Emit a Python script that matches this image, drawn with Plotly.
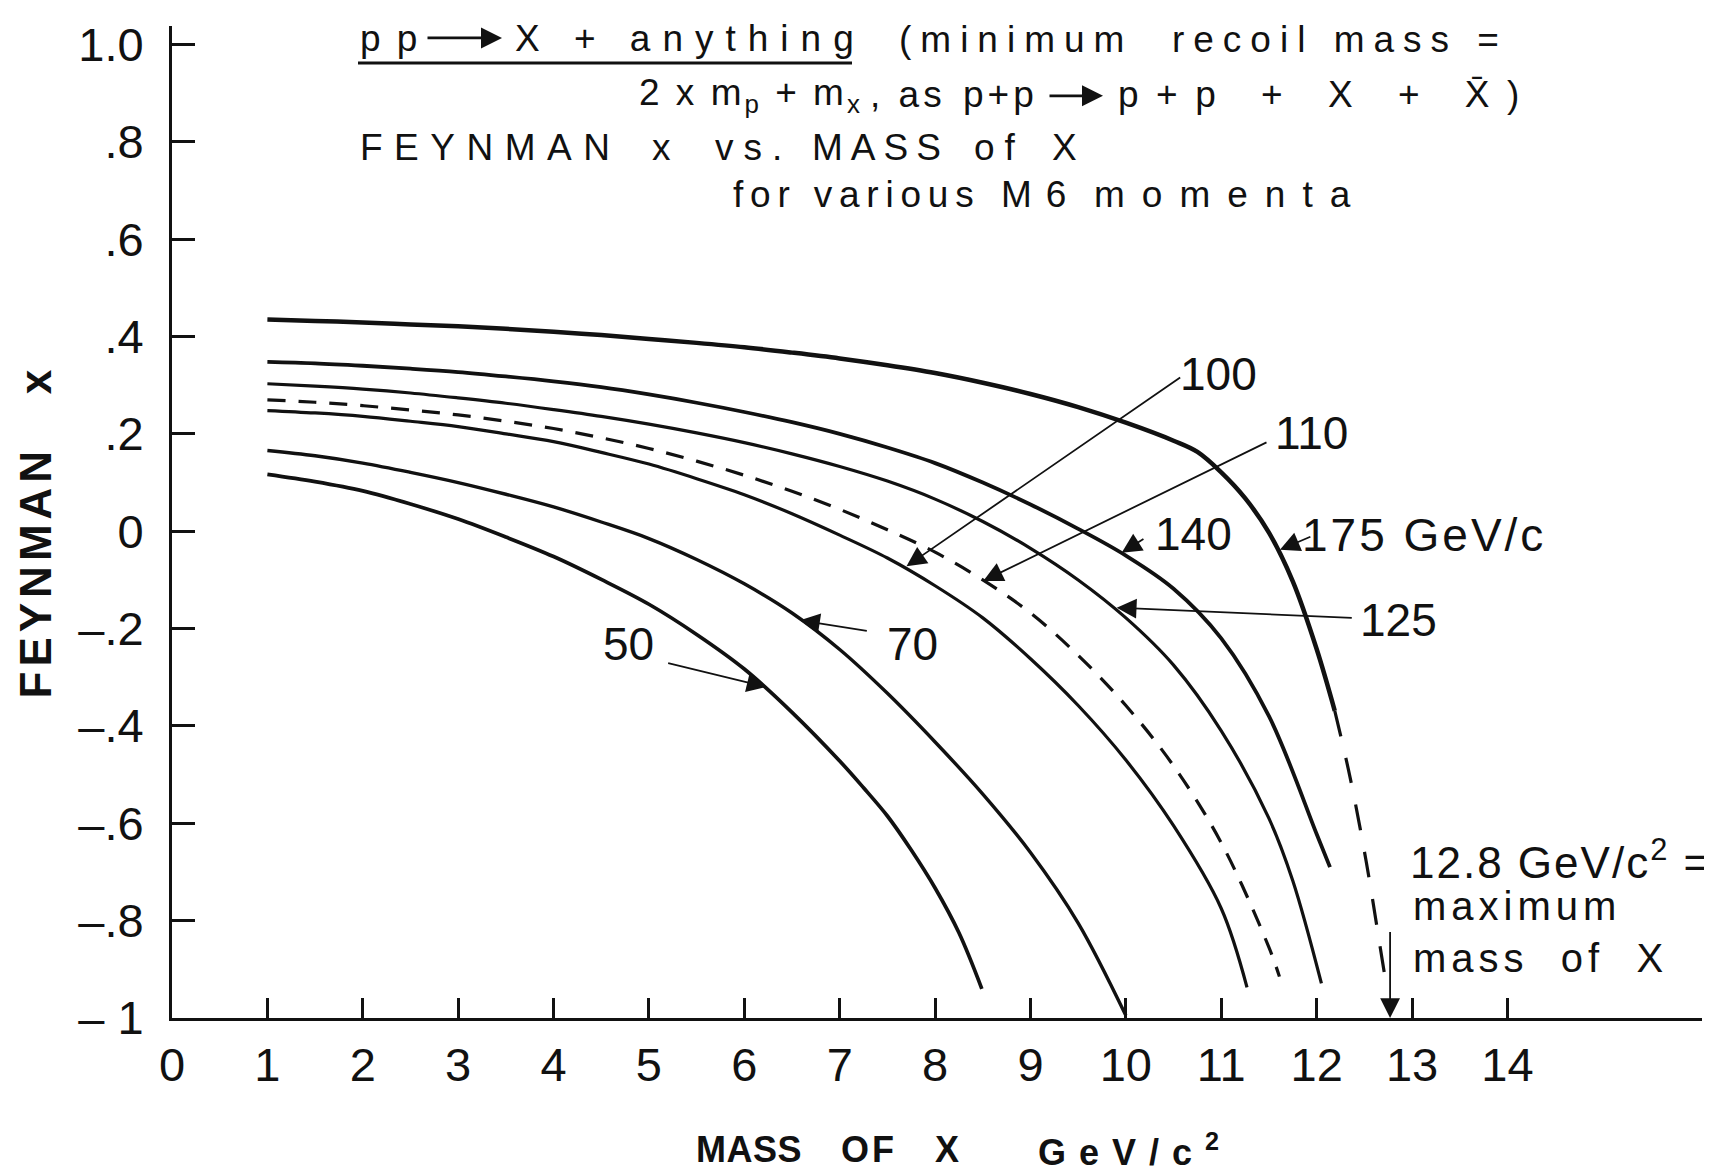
import plotly.graph_objects as go

# ---------------- data ----------------
m_50 = [1, 1.5, 2, 2.5, 3, 3.5, 4, 4.5, 5, 5.5, 6, 6.5, 7, 7.25, 7.5, 7.75, 8, 8.25, 8.49]
xf_50 = [0.117, 0.102, 0.083, 0.056, 0.025, -0.012, -0.052, -0.099, -0.150, -0.212, -0.283,
         -0.372, -0.472, -0.527, -0.585, -0.655, -0.733, -0.825, -0.940]

m_70 = [1, 1.5, 2, 2.5, 3, 3.5, 4, 4.5, 5, 5.5, 6, 6.5, 7, 7.5, 8, 8.5, 9, 9.5, 10]
xf_70 = [0.166, 0.155, 0.140, 0.121, 0.100, 0.076, 0.050, 0.019, -0.015, -0.058, -0.108, -0.168,
         -0.243, -0.333, -0.433, -0.540, -0.660, -0.805, -0.995]

m_100 = [1, 1.5, 2, 2.5, 3, 3.5, 4, 4.5, 5, 5.5, 6, 6.5, 7, 7.5, 8, 8.5, 9, 9.5, 10, 10.5, 11, 11.27]
xf_100 = [0.248, 0.243, 0.236, 0.226, 0.215, 0.200, 0.184, 0.162, 0.138, 0.108, 0.075, 0.036,
          -0.008, -0.055, -0.112, -0.178, -0.262, -0.358, -0.470, -0.605, -0.775, -0.937]

m_110 = [1, 1.5, 2, 2.5, 3, 3.5, 4, 4.5, 5, 5.5, 6, 6.5, 7, 7.5, 8, 8.5, 9, 9.5, 10, 10.5, 11, 11.5, 11.61]
xf_110 = [0.270, 0.265, 0.258, 0.249, 0.239, 0.226, 0.211, 0.192, 0.170, 0.144, 0.115, 0.082,
          0.045, 0.003, -0.043, -0.100, -0.168, -0.255, -0.358, -0.482, -0.640, -0.855, -0.915]

m_125 = [1, 1.5, 2, 2.5, 3, 3.5, 4, 4.5, 5, 5.5, 6, 6.5, 7, 7.5, 8, 8.5, 9, 9.5, 10, 10.5, 11, 11.5, 11.75, 12.05]
xf_125 = [0.303, 0.298, 0.292, 0.284, 0.274, 0.263, 0.250, 0.236, 0.220, 0.202, 0.182, 0.159,
          0.133, 0.103, 0.066, 0.020, -0.035, -0.100, -0.178, -0.275, -0.410, -0.590, -0.718, -0.929]

m_140 = [1, 1.5, 2, 2.5, 3, 3.5, 4, 4.5, 5, 5.5, 6, 6.5, 7, 7.5, 8, 8.5, 9, 9.5, 10, 10.5, 11, 11.5, 12, 12.14]
xf_140 = [0.348, 0.345, 0.340, 0.334, 0.327, 0.318, 0.308, 0.296, 0.281, 0.264, 0.245, 0.224,
          0.200, 0.172, 0.140, 0.100, 0.055, 0.005, -0.050, -0.118, -0.220, -0.380, -0.622, -0.690]

m_175 = [1, 1.5, 2, 2.5, 3, 3.5, 4, 4.5, 5, 5.5, 6, 6.5, 7, 7.5, 8, 8.5, 9, 9.5, 10, 10.5,
         10.75, 11, 11.25, 11.5, 11.75, 12, 12.19]
xf_175 = [0.435, 0.432, 0.429, 0.425, 0.421, 0.416, 0.410, 0.403, 0.395, 0.387, 0.378, 0.367,
          0.355, 0.341, 0.325, 0.305, 0.282, 0.255, 0.223, 0.186, 0.163, 0.121, 0.068, -0.003,
          -0.103, -0.242, -0.369]
m_175_ext = [12.19, 12.35, 12.52, 12.66, 12.71]
xf_175_ext = [-0.369, -0.505, -0.679, -0.847, -0.908]

x_tick_vals = list(range(0, 15))
x_tick_text = [str(v) for v in x_tick_vals]
y_tick_vals = [1.0, 0.8, 0.6, 0.4, 0.2, 0.0, -0.2, -0.4, -0.6, -0.8, -1.0]
y_tick_text = ["1.0", ".8", ".6", ".4", ".2", "0", "\u2013.2", "\u2013.4", "\u2013.6", "\u2013.8", "\u2013 1"]

# momentum labels on the curves: (text, x, y) in data units
curve_labels = [("100", 10.97, 0.324), ("110", 11.95, 0.201), ("140", 10.71, -0.006),
                ("125", 12.86, -0.182), ("70", 7.76, -0.232), ("50", 4.79, -0.232)]
# leader arrows: (tip_x, tip_y, tail_x, tail_y) in data units
leaders = [(7.70, -0.072, 10.585, 0.318), (8.505, -0.102, 11.49, 0.184),
           (9.956, -0.044, 10.20, -0.014), (11.615, -0.038, 11.95, -0.010),
           (9.904, -0.157, 12.384, -0.178), (6.584, -0.183, 7.30, -0.205),
           (6.234, -0.320, 5.186, -0.270), (12.77, -1.0, 12.77, -0.82)]

FONT = "Liberation Sans, Arial, sans-serif"
BLACK = "#111111"

fig = go.Figure()

def add_curve(xs, ys, width, dash="solid"):
    fig.add_trace(go.Scatter(x=xs, y=ys, mode="lines", hoverinfo="skip",
                             line=dict(color=BLACK, width=width, shape="spline", smoothing=1.0, dash=dash)))

add_curve(m_50, xf_50, 3.7)
add_curve(m_70, xf_70, 3.4)
add_curve(m_100, xf_100, 3.2)
add_curve(m_110, xf_110, 3.2, dash="18px,13px")
add_curve(m_125, xf_125, 3.2)
add_curve(m_140, xf_140, 3.8)
add_curve(m_175, xf_175, 4.5)
add_curve(m_175_ext, xf_175_ext, 3.2, dash="26px,22px")

ann = []
for t, x, y in curve_labels:
    ann.append(dict(text=t, x=x, y=y, xref="x", yref="y", showarrow=False,
                    xanchor="center", yanchor="middle", font=dict(size=46, family=FONT, color=BLACK)))
ann.append(dict(text='<span style="letter-spacing:3px">175 GeV/c</span>', x=11.83, y=-0.008,
                xref="x", yref="y", showarrow=False, xanchor="left", yanchor="middle",
                font=dict(size=46, family=FONT, color=BLACK)))
for tx, ty, ax, ay in leaders:
    ann.append(dict(text="", x=tx, y=ty, ax=ax, ay=ay, xref="x", yref="y", axref="x", ayref="y",
                    showarrow=True, arrowhead=2, arrowsize=2.2, arrowwidth=1.8, arrowcolor=BLACK, standoff=0))

# ---- free text placed in page pixels (plot area: x 172..1702, y 23..1018) ----
def px(X):
    return (X - 172.0) / 1530.0

def py(Y):
    return (1018.0 - Y) / 995.0

def txt(s, X, Y, fs, ls=0, xa="left", angle=0, weight="normal"):
    if ls:
        s = '<span style="letter-spacing:%gpx">%s</span>' % (ls, s)
    return dict(text=s, x=px(X), y=py(Y), xref="paper", yref="paper", showarrow=False,
                xanchor=xa, yanchor="middle", textangle=angle,
                font=dict(size=fs, family=FONT, color=BLACK, weight=weight))

TF = 37
ann += [
    # line 1
    txt("p p", 358, 36, TF, 3),
    txt("X + anything", 513, 36, TF, 12),
    txt("(minimum  recoil mass =", 897, 37, TF, 9),
    # line 2
    txt("2 x m<sub>p</sub> + m<sub>x</sub>", 637, 92, TF, 3),
    txt(", as", 868, 92, TF, 4),
    txt("p+p", 961, 92, TF, 4),
    txt("p+p + X + X\u0304)", 1116, 92, TF, 17.5),
    # line 3
    txt("FEYNMAN", 358, 145, TF, 11.5),
    txt("x", 650, 145, TF),
    txt("vs.", 713, 145, TF, 10),
    txt("MASS", 810, 145, TF, 8),
    txt("of", 972, 145, TF, 10),
    txt("X", 1050, 145, TF),
    # line 4
    txt("for various", 731, 192, TF, 6.8),
    txt("M6", 999, 192, TF, 14),
    txt("momenta", 1092, 192, TF, 17),
    # axis titles
    txt("FEYNMAN   x", 35, 530, 44, 5, xa="center", angle=-90, weight="bold"),
    txt("MASS", 694, 1150, 36, 0.5, weight="bold"),
    txt("OF", 839, 1150, 36, 3, weight="bold"),
    txt("X", 933, 1150, 36, weight="bold"),
    txt("GeV/c<sup>2</sup>", 1036, 1150, 36, 13, weight="bold"),
    # maximum mass note
    txt("12.8 GeV/c<sup>2</sup> =", 1408, 859, 44, 2),
    txt("maximum", 1411, 906, 40, 5),
    txt("mass  of  X", 1411, 958, 40, 5),
]

# arrows inside the title lines
for head, tail, Y in [(502, 426, 35), (1103, 1048, 93)]:
    ann.append(dict(text="", x=px(head), y=py(Y), xref="paper", yref="paper",
                    ax=tail - head, ay=0, axref="pixel", ayref="pixel", showarrow=True,
                    arrowhead=2, arrowsize=1.5, arrowwidth=2.8, arrowcolor=BLACK, standoff=0))

fig.update_layout(
    width=1704, height=1164,
    margin=dict(l=164, r=10, t=15, b=154, pad=0),
    paper_bgcolor="white", plot_bgcolor="white",
    showlegend=False,
    annotations=ann,
    shapes=[dict(type="line", xref="paper", yref="paper", x0=px(358), x1=px(852), y0=py(60), y1=py(60),
                 line=dict(color=BLACK, width=3))],
    xaxis=dict(range=[0, 16.04], showgrid=False, zeroline=False, showline=True, linecolor=BLACK,
               linewidth=3, ticks="inside", ticklen=20, tickwidth=2.5, tickcolor=BLACK,
               tickmode="array", tickvals=x_tick_vals, ticktext=x_tick_text, ticklabelstandoff=4,
               tickfont=dict(size=47, family=FONT, color=BLACK)),
    yaxis=dict(range=[-1.0, 1.038], showgrid=False, zeroline=False, showline=True, linecolor=BLACK,
               linewidth=3, ticks="inside", ticklen=23, tickwidth=2.5, tickcolor=BLACK,
               tickmode="array", tickvals=y_tick_vals, ticktext=y_tick_text, ticklabelstandoff=16,
               tickfont=dict(size=47, family=FONT, color=BLACK)),
)

fig.write_html("out.html")
